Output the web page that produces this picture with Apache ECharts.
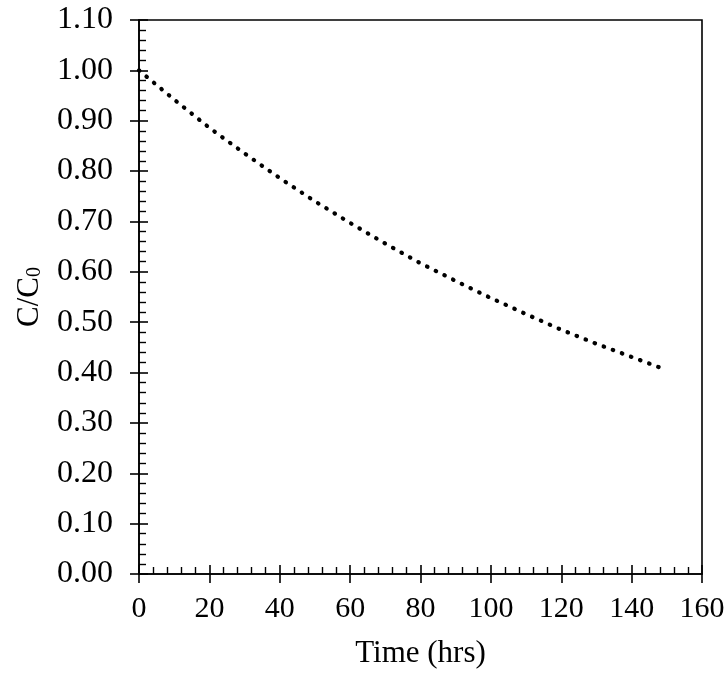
<!DOCTYPE html>
<html>
<head>
<meta charset="utf-8">
<script src="https://cdn.jsdelivr.net/npm/echarts@6/dist/echarts.min.js"></script>
<style>
html, body { margin: 0; padding: 0; background: #fff; }
#chart { width: 728px; height: 675px; }
</style>
</head>
<body>
<div id="chart"></div>
<script>
// time (hrs) and C/C0
var timeHrs = [0, 10, 20, 30, 40, 50, 60, 70, 80, 90, 100, 110, 120, 130, 140, 148];
var ratio = [1.000, 0.942, 0.886, 0.835, 0.786, 0.740, 0.697, 0.656, 0.617, 0.582, 0.548, 0.516, 0.485, 0.457, 0.431, 0.410];
var xTicks = [0, 20, 40, 60, 80, 100, 120, 140, 160];
var yTicks = [0, 0.1, 0.2, 0.3, 0.4, 0.5, 0.6, 0.7, 0.8, 0.9, 1.0, 1.1];

var font = "'Liberation Serif', 'Times New Roman', serif";
var seriesData = [];
for (var i = 0; i < timeHrs.length; i++) {
	seriesData.push([timeHrs[i], ratio[i]]);
}

var grid = { left: 139, right: 26, top: 20, bottom: 101 };

function xAxisBase() {
	return {
		type: 'value',
		min: xTicks[0],
		max: xTicks[xTicks.length - 1],
		interval: 20,
		splitLine: { show: false }
	};
}
function yAxisBase() {
	return {
		type: 'value',
		min: yTicks[0],
		max: yTicks[yTicks.length - 1],
		interval: 0.1,
		splitLine: { show: false }
	};
}

var xMain = xAxisBase();
xMain.position = 'bottom';
xMain.name = 'Time (hrs)';
xMain.nameLocation = 'middle';
xMain.nameGap = 64;
xMain.nameTextStyle = { fontFamily: font, fontSize: 31, color: '#000' };
xMain.axisLine = { lineStyle: { color: '#000', width: 1.6 } };
xMain.axisTick = { inside: true, length: 9, lineStyle: { color: '#000', width: 1.6 } };
xMain.minorTick = { show: true, splitNumber: 5, length: 7, lineStyle: { color: '#000', width: 1.4 } };
xMain.axisLabel = { fontFamily: font, fontSize: 30, color: '#000', margin: 20 };

var xOut = xAxisBase();
xOut.position = 'bottom';
xOut.axisLine = { show: false };
xOut.axisTick = { inside: false, length: 9, lineStyle: { color: '#000', width: 1.6 } };
xOut.axisLabel = { show: false };

var yMain = yAxisBase();
yMain.position = 'left';
yMain.name = 'C/C{sub|0}';
yMain.nameLocation = 'middle';
yMain.nameGap = 94;
yMain.nameTextStyle = {
	fontFamily: font, fontSize: 31, color: '#000',
	rich: { sub: { fontFamily: font, fontSize: 20, color: '#000', verticalAlign: 'bottom', lineHeight: 14 } }
};
yMain.axisLine = { lineStyle: { color: '#000', width: 1.6 } };
yMain.axisTick = { inside: true, length: 9, lineStyle: { color: '#000', width: 1.6 } };
yMain.minorTick = { show: true, splitNumber: 5, length: 7, lineStyle: { color: '#000', width: 1.4 } };
yMain.axisLabel = {
	fontFamily: font, fontSize: 32, color: '#000', margin: 26,
	formatter: function(value) { return value.toFixed(2); }
};

var yOut = yAxisBase();
yOut.position = 'left';
yOut.axisLine = { show: false };
yOut.axisTick = { inside: false, length: 9, lineStyle: { color: '#000', width: 1.6 } };
yOut.axisLabel = { show: false };

option = {
	animation: false,
	backgroundColor: '#fff',
	grid: {
		left: grid.left, right: grid.right, top: grid.top, bottom: grid.bottom,
		show: true, borderColor: '#000', borderWidth: 1.6
	},
	xAxis: [xMain, xOut],
	yAxis: [yMain, yOut],
	series: [{
		type: 'line',
		data: seriesData,
		showSymbol: false,
		smooth: false,
		lineStyle: { color: '#000', width: 4.2, type: [0.5, 9.2], cap: 'round' }
	}]
};

var myChart = echarts.init(document.getElementById('chart'));
myChart.setOption(option);
</script>
</body>
</html>
